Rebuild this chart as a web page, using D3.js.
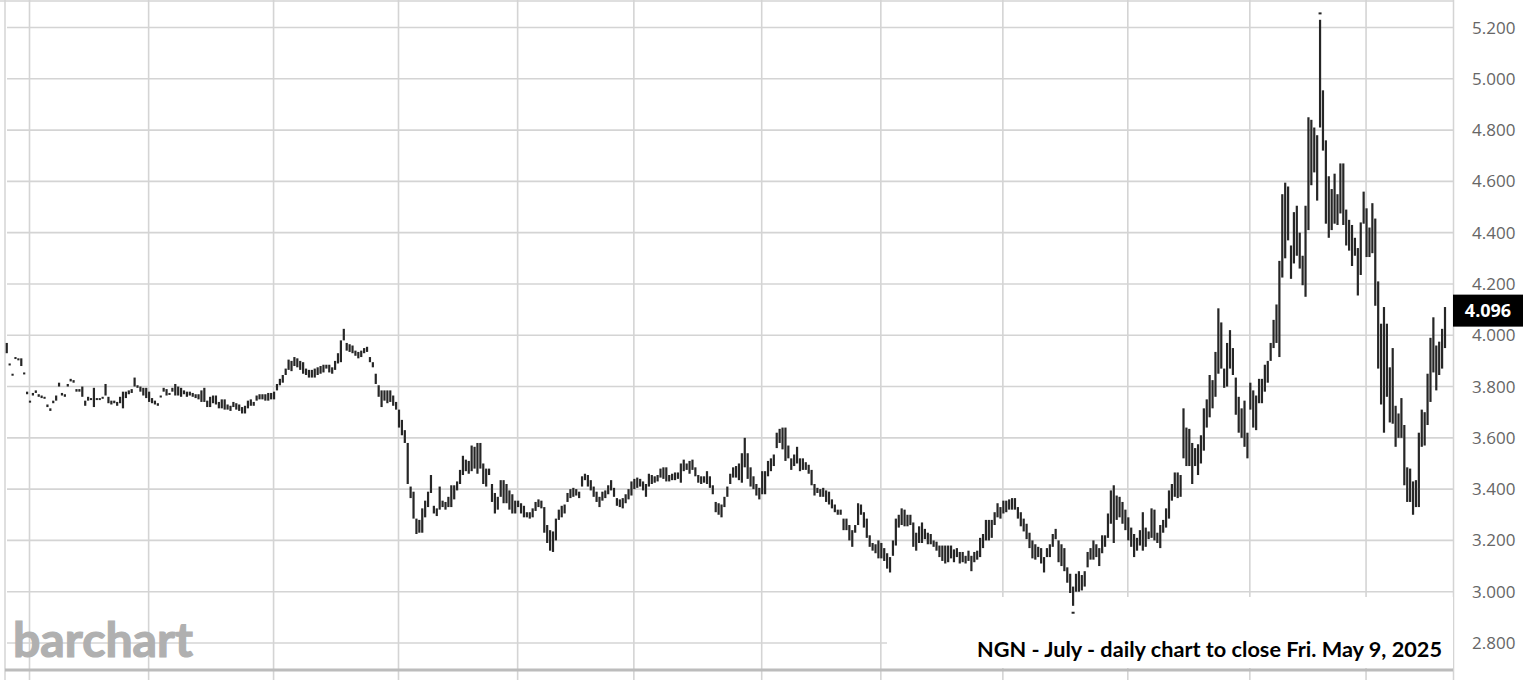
<!DOCTYPE html>
<html><head><meta charset="utf-8">
<script src="https://cdn.jsdelivr.net/npm/d3@7"></script>
<style>html,body{margin:0;padding:0;background:#fff;overflow:hidden}</style>
</head><body>
<svg id="c" width="1526" height="680"></svg>
<script>
// ---- data: daily [low, high] per bar, grouped by two-month period ----
const yTicks = [2.8,3.0,3.2,3.4,3.6,3.8,4.0,4.2,4.4,4.6,4.8,5.0,5.2];
const lastPrice = 4.096;
const title = "NGN - July - daily chart to close Fri. May 9, 2025";
const logo = "barchart";

const bars_May23 = [[3.93,3.97],[3.89,3.89],[3.85,3.85],[3.915,3.915],[3.91,3.91],[3.88,3.91],[3.855,3.855],[3.77,3.78]];
const bars_JunJul23 = [[3.74,3.745],[3.765,3.775],[3.775,3.785],[3.76,3.77],[3.755,3.765],[3.755,3.76],[3.72,3.73],[3.705,3.715],[3.735,3.745],[3.745,3.765],
[3.80,3.815],[3.765,3.775],[3.76,3.77],[3.80,3.81],[3.82,3.83],[3.815,3.825],[3.78,3.79],[3.78,3.79],[3.76,3.80],[3.725,3.745],
[3.745,3.76],[3.75,3.755],[3.72,3.795],[3.75,3.755],[3.75,3.755],[3.755,3.76],[3.765,3.81],[3.735,3.76],[3.73,3.745],[3.735,3.745],
[3.725,3.74],[3.735,3.76],[3.715,3.78],[3.755,3.78],[3.77,3.785],[3.775,3.79],[3.80,3.835],[3.795,3.805],[3.78,3.80],[3.765,3.795],
[3.755,3.795]];
const bars_AugSep23 = [[3.74,3.78],[3.735,3.755],[3.73,3.745],[3.725,3.735],[3.76,3.765],[3.78,3.795],[3.765,3.79],[3.77,3.775],[3.78,3.795],[3.765,3.81],
[3.765,3.80],[3.76,3.795],[3.77,3.785],[3.76,3.78],[3.765,3.78],[3.76,3.775],[3.755,3.77],[3.75,3.77],[3.74,3.785],[3.74,3.795],
[3.72,3.745],[3.72,3.76],[3.735,3.765],[3.73,3.765],[3.715,3.74],[3.715,3.75],[3.71,3.75],[3.71,3.73],[3.705,3.725],[3.72,3.74],
[3.71,3.735],[3.705,3.73],[3.695,3.72],[3.695,3.725],[3.715,3.745],[3.725,3.75],[3.725,3.74],[3.745,3.765],[3.75,3.77],[3.75,3.77],
[3.745,3.77],[3.745,3.775],[3.75,3.775]];
const bars_OctNov23 = [[3.75,3.78],[3.785,3.81],[3.805,3.83],[3.815,3.845],[3.845,3.87],[3.865,3.905],[3.86,3.90],[3.88,3.915],[3.875,3.91],[3.865,3.90],
[3.85,3.895],[3.845,3.87],[3.835,3.865],[3.835,3.865],[3.835,3.87],[3.845,3.875],[3.85,3.88],[3.855,3.885],[3.87,3.885],[3.855,3.885],
[3.85,3.875],[3.865,3.90],[3.89,3.93],[3.895,3.98],[3.98,4.025],[3.94,3.97],[3.935,3.965],[3.93,3.96],[3.92,3.94],[3.91,3.935],
[3.915,3.94],[3.93,3.95],[3.935,3.955],[3.895,3.915],[3.875,3.895],[3.81,3.85],[3.76,3.805],[3.72,3.785],[3.745,3.785],[3.735,3.785],
[3.74,3.785],[3.725,3.765],[3.71,3.74]];
const bars_DecJan24 = [[3.64,3.71],[3.61,3.67],[3.58,3.63],[3.42,3.58],[3.365,3.41],[3.285,3.39],[3.225,3.285],[3.23,3.28],[3.23,3.325],[3.29,3.355],
[3.33,3.39],[3.385,3.455],[3.305,3.335],[3.295,3.325],[3.32,3.41],[3.33,3.355],[3.32,3.35],[3.33,3.37],[3.33,3.415],[3.36,3.415],
[3.395,3.43],[3.42,3.475],[3.455,3.53],[3.47,3.515],[3.46,3.51],[3.47,3.57],[3.48,3.565],[3.46,3.58],[3.48,3.58],[3.42,3.50],
[3.41,3.48],[3.455,3.48],[3.35,3.42],[3.305,3.385],[3.32,3.37],[3.37,3.435],[3.345,3.435],[3.345,3.42],[3.32,3.395],[3.305,3.38],
[3.305,3.355]];
const bars_FebMar24 = [[3.33,3.355],[3.305,3.345],[3.29,3.335],[3.29,3.31],[3.285,3.31],[3.29,3.325],[3.315,3.35],[3.33,3.36],[3.325,3.355],[3.23,3.33],
[3.19,3.26],[3.16,3.24],[3.155,3.235],[3.20,3.285],[3.28,3.32],[3.29,3.335],[3.305,3.34],[3.35,3.385],[3.365,3.40],[3.37,3.405],
[3.375,3.40],[3.365,3.39],[3.41,3.45],[3.435,3.46],[3.41,3.455],[3.395,3.435],[3.37,3.41],[3.35,3.39],[3.33,3.37],[3.355,3.39],
[3.365,3.395],[3.38,3.415],[3.395,3.435],[3.37,3.405],[3.335,3.365],[3.33,3.36],[3.325,3.365],[3.345,3.38],[3.36,3.40],[3.375,3.43]];
const bars_AprMay24 = [[3.40,3.44],[3.405,3.445],[3.41,3.44],[3.395,3.43],[3.37,3.42],[3.41,3.46],[3.42,3.455],[3.425,3.45],[3.43,3.455],[3.445,3.48],
[3.44,3.485],[3.43,3.485],[3.43,3.455],[3.435,3.46],[3.435,3.465],[3.44,3.465],[3.425,3.50],[3.47,3.515],[3.475,3.50],[3.46,3.51],
[3.475,3.515],[3.45,3.485],[3.425,3.455],[3.42,3.45],[3.425,3.45],[3.42,3.47],[3.405,3.45],[3.38,3.415],[3.31,3.35],[3.30,3.345],
[3.29,3.34],[3.33,3.37],[3.37,3.41],[3.42,3.46],[3.445,3.485],[3.445,3.49],[3.435,3.50],[3.425,3.54],[3.485,3.60],[3.44,3.54],
[3.41,3.485],[3.40,3.45],[3.375,3.42],[3.36,3.405]];
const bars_JunJul24 = [[3.38,3.47],[3.38,3.47],[3.45,3.51],[3.47,3.52],[3.49,3.535],[3.56,3.62],[3.58,3.635],[3.555,3.64],[3.51,3.64],[3.52,3.57],
[3.475,3.52],[3.49,3.535],[3.50,3.565],[3.47,3.52],[3.475,3.52],[3.475,3.505],[3.46,3.495],[3.415,3.475],[3.375,3.42],[3.385,3.405],
[3.37,3.40],[3.37,3.405],[3.35,3.395],[3.34,3.39],[3.325,3.36],[3.31,3.34],[3.30,3.32],[3.30,3.32],[3.24,3.285],[3.24,3.285],
[3.20,3.26],[3.175,3.24],[3.23,3.26],[3.26,3.345],[3.30,3.34],[3.25,3.31],[3.21,3.285],[3.175,3.22],[3.16,3.19],[3.15,3.185],
[3.13,3.20]];
const bars_AugSep24 = [[3.13,3.19],[3.12,3.17],[3.09,3.15],[3.075,3.135],[3.14,3.20],[3.18,3.285],[3.25,3.30],[3.26,3.325],[3.255,3.32],[3.255,3.30],
[3.26,3.30],[3.175,3.27],[3.16,3.23],[3.19,3.255],[3.19,3.27],[3.205,3.245],[3.185,3.23],[3.185,3.225],[3.175,3.20],[3.16,3.195],
[3.135,3.18],[3.12,3.18],[3.11,3.18],[3.115,3.18],[3.13,3.18],[3.115,3.165],[3.135,3.17],[3.11,3.155],[3.115,3.155],[3.11,3.14],
[3.12,3.16],[3.08,3.14],[3.115,3.155],[3.125,3.16],[3.135,3.21],[3.17,3.225],[3.20,3.28],[3.20,3.28],[3.21,3.28],[3.26,3.31],
[3.29,3.345],[3.285,3.33]];
const bars_OctNov24 = [[3.305,3.355],[3.31,3.355],[3.32,3.36],[3.32,3.365],[3.32,3.365],[3.285,3.33],[3.255,3.31],[3.235,3.285],[3.205,3.265],[3.17,3.23],
[3.13,3.20],[3.125,3.185],[3.135,3.175],[3.11,3.17],[3.075,3.135],[3.135,3.17],[3.135,3.185],[3.175,3.225],[3.205,3.245],[3.115,3.20],
[3.10,3.185],[3.08,3.17],[3.035,3.095],[2.995,3.07],[2.945,3.02],[3.00,3.07],[3.00,3.08],[3.005,3.065],[3.02,3.08],[3.095,3.155],
[3.125,3.17],[3.125,3.20],[3.135,3.185],[3.10,3.17],[3.15,3.22],[3.175,3.22],[3.21,3.305],[3.265,3.395],[3.19,3.415],[3.28,3.375],
[3.29,3.37],[3.265,3.35],[3.24,3.32]];
const bars_DecJan25 = [[3.20,3.29],[3.175,3.25],[3.135,3.225],[3.16,3.21],[3.18,3.24],[3.16,3.31],[3.175,3.25],[3.205,3.235],[3.21,3.325],[3.20,3.32],
[3.19,3.23],[3.17,3.26],[3.23,3.28],[3.25,3.325],[3.285,3.395],[3.355,3.42],[3.37,3.465],[3.365,3.465],[3.37,3.455],[3.52,3.715],
[3.49,3.64],[3.49,3.635],[3.42,3.58],[3.49,3.56],[3.455,3.575],[3.50,3.61],[3.55,3.715],[3.64,3.75],[3.68,3.845],[3.715,3.825],
[3.76,3.935],[3.85,4.105],[3.87,4.05],[3.795,3.87],[3.80,3.97],[3.87,4.02],[3.845,3.95],[3.69,3.835],[3.62,3.76],[3.60,3.715],
[3.565,3.745],[3.52,3.62]];
const bars_FebMar25 = [[3.71,3.815],[3.64,3.785],[3.63,3.765],[3.735,3.83],[3.735,3.83],[3.78,3.885],[3.815,3.90],[3.90,3.97],[3.95,4.06],[3.97,4.12],
[3.915,4.29],[4.225,4.55],[4.30,4.595],[4.37,4.58],[4.22,4.35],[4.28,4.48],[4.31,4.505],[4.26,4.40],[4.195,4.31],[4.15,4.505],
[4.41,4.85],[4.585,4.84],[4.635,4.81],[4.525,4.78],[4.81,5.23],[4.72,4.955],[4.435,4.76],[4.38,4.62],[4.41,4.57],[4.435,4.63],
[4.43,4.55],[4.475,4.67],[4.43,4.67],[4.35,4.49],[4.33,4.45],[4.27,4.43],[4.31,4.38],[4.155,4.34],[4.235,4.44],[4.435,4.56]];
const bars_AprMay25 = [[4.305,4.495],[4.305,4.42],[4.32,4.515],[4.115,4.455],[3.87,4.21],[3.73,4.045],[3.62,4.11],[3.76,4.045],[3.66,3.875],[3.655,3.95],
[3.565,3.725],[3.60,3.695],[3.60,3.755],[3.415,3.65],[3.35,3.485],[3.35,3.48],[3.30,3.43],[3.33,3.435],[3.33,3.62],[3.565,3.71],
[3.57,3.70],[3.65,3.85],[3.74,3.99],[3.855,4.07],[3.785,3.96],[3.845,3.975],[3.87,4.025],[3.95,4.11]];
// isolated extreme prints shown as small dashes: [bar index within all bars, price]
const extremeTicks = [[452, 5.255], [367, 2.918]];

const periods = [bars_May23, bars_JunJul23, bars_AugSep23, bars_OctNov23, bars_DecJan24, bars_FebMar24,
  bars_AprMay24, bars_JunJul24, bars_AugSep24, bars_OctNov24, bars_DecJan25, bars_FebMar25, bars_AprMay25];

// ---- build ----
const bars = periods.flat();
const starts = []; let acc = 0;
periods.forEach(p => { starts.push(acc); acc += p.length; });
const gridIdx = starts.slice(1);

const svg = d3.select("#c");
const plotL = 5, plotR = 1453, gridColor = "#d4d4d4";
const x = d3.scaleLinear().domain([gridIdx[0], bars.length - 1]).range([30, 1445]);
const y = d3.scaleLinear().domain([2.8, 5.2]).range([643, 27.5]);

// frame
svg.append("line").attr("x1",0).attr("x2",plotR).attr("y1",1).attr("y2",1).attr("stroke",gridColor).attr("stroke-width",1.5);
svg.append("line").attr("x1",plotL).attr("x2",plotL).attr("y1",0).attr("y2",680).attr("stroke",gridColor).attr("stroke-width",1.5);

// vertical grid
svg.append("g").selectAll("line").data(gridIdx).join("line")
  .attr("x1", d => x(d) - 0.5).attr("x2", d => x(d) - 0.5)
  .attr("y1", 0).attr("y2", 680)
  .attr("stroke", gridColor).attr("stroke-width", 1.6);

// horizontal grid
svg.append("g").selectAll("line").data(yTicks).join("line")
  .attr("x1", plotL + 2).attr("x2", plotR)
  .attr("y1", d => y(d)).attr("y2", d => y(d))
  .attr("stroke", gridColor).attr("stroke-width", 1.6);

// right border
svg.append("line").attr("x1",plotR+0.5).attr("x2",plotR+0.5).attr("y1",0).attr("y2",680).attr("stroke",gridColor).attr("stroke-width",1.5);

// white panel behind caption
svg.append("rect").attr("x",887).attr("y",597).attr("width",plotR-887).attr("height",71).attr("fill","#fff");

// bottom rule
svg.append("line").attr("x1",plotL).attr("x2",plotR).attr("y1",670).attr("y2",670).attr("stroke","#bcbcbc").attr("stroke-width",3);

// logo
svg.append("text").attr("x",13).attr("y",657).text(logo)
  .attr("font-family","Lato, 'DejaVu Sans', sans-serif").attr("font-weight","bold").attr("font-size",47)
  .attr("fill","#b0b0b0").attr("stroke","#b0b0b0").attr("stroke-width",1.2)
  .attr("textLength",180).attr("lengthAdjust","spacingAndGlyphs");

// bars
svg.append("g").selectAll("rect").data(bars).join("rect")
  .attr("x", (d,i) => x(i) - 1.1).attr("width", 2.2)
  .attr("y", d => y(d[1]))
  .attr("height", d => Math.max(2, y(d[0]) - y(d[1])))
  .attr("fill", "#262626");

// isolated extreme ticks
svg.append("g").selectAll("rect").data(extremeTicks).join("rect")
  .attr("x", d => x(d[0]) - 1.5).attr("width", 3)
  .attr("y", d => y(d[1]) - 1).attr("height", 2)
  .attr("fill", "#262626");

// axis labels
svg.append("g").selectAll("text").data(yTicks).join("text")
  .attr("x", 1472).attr("y", d => y(d) + 6)
  .text(d => d.toFixed(3))
  .attr("font-family","'Open Sans', sans-serif").attr("font-size",17).attr("fill","#666");

// last price tag
svg.append("rect").attr("x",plotR).attr("y",y(lastPrice)-16).attr("width",70).attr("height",32).attr("fill","#000");
svg.append("text").attr("x",1488).attr("y",y(lastPrice)+6.5).attr("text-anchor","middle").text(lastPrice.toFixed(3))
  .attr("font-family","'Open Sans', sans-serif").attr("font-weight","bold").attr("font-size",18).attr("fill","#fff");

// caption
svg.append("text").attr("x",1442).attr("y",657).attr("text-anchor","end").text(title)
  .attr("font-family","Lato, 'Open Sans', sans-serif").attr("font-weight","bold").attr("font-size",20)
  .attr("fill","#000").attr("textLength",465).attr("lengthAdjust","spacingAndGlyphs");
</script>
</body></html>
